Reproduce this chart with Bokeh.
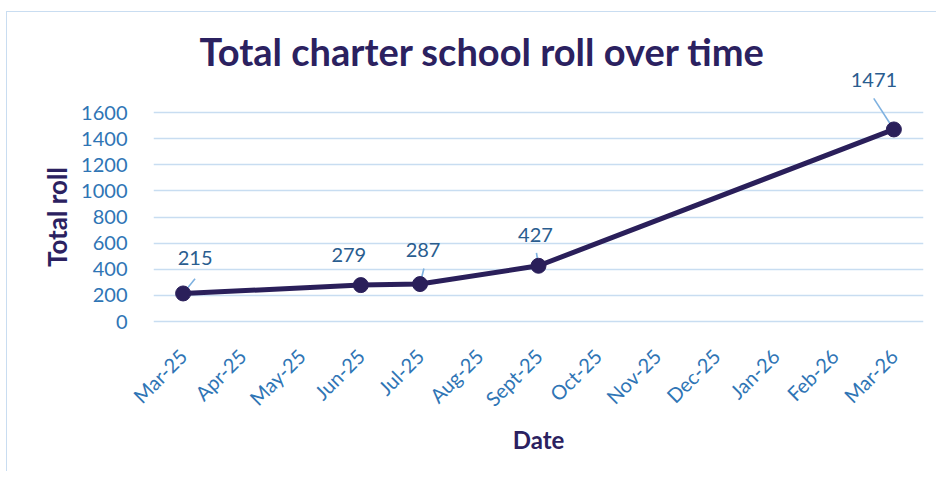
from math import pi, radians
from bokeh.plotting import figure
from bokeh.models import ColumnDataSource, FixedTicker, Range1d, FactorRange
from bokeh.embed import file_html
from bokeh.resources import INLINE

# ---- data ----
months = ["Mar-25", "Apr-25", "May-25", "Jun-25", "Jul-25", "Aug-25", "Sept-25",
          "Oct-25", "Nov-25", "Dec-25", "Jan-26", "Feb-26", "Mar-26"]
obs_months = ["Mar-25", "Jun-25", "Jul-25", "Sept-25", "Mar-26"]
roll = [215, 279, 287, 427, 1471]
y_ticks = [0, 200, 400, 600, 800, 1000, 1200, 1400, 1600]

# ---- styles ----
label_dx = [12, -12, 3, -3, -20]
label_dy = [-35, -30, -34, -31, -49]
leader_idx = [0, 2, 3, 4]
leader_angle = [51, 76, 99, 123]
leader_len = [19, 16, 13, 37]

TITLE_C = "#2b2160"
TICK_C = "#2f75b5"
LABEL_C = "#2a5d8f"
LINE_C = "#2a1f5a"
GRID_C = "#c8ddf1"

p = figure(width=930, height=460, output_backend="svg", toolbar_location=None,
           x_range=FactorRange(*months, range_padding=0),
           y_range=Range1d(-15, 1953),
           min_border_left=146, min_border_right=14,
           min_border_top=54, min_border_bottom=149,
           background_fill_color="white", border_fill_color="white",
           outline_line_color=None,
           styles={"margin-left": "6px", "margin-top": "11px",
                   "border-left": "1.5px solid #c9ddf1", "border-top": "1.5px solid #c9ddf1"})

p.title.text = "Total charter school roll over time"
p.title.text_font = "Lato"
p.title.text_font_style = "bold"
p.title.text_font_size = "38px"
p.title.text_color = TITLE_C
p.title.align = "left"
p.title.offset = 46
p.title.standoff = -15

p.xgrid.grid_line_color = None
p.ygrid.grid_line_color = GRID_C
p.ygrid.grid_line_width = 1.6
p.yaxis.ticker = FixedTicker(ticks=y_ticks)

for ax in (p.xaxis, p.yaxis):
    ax.axis_line_color = None
    ax.major_tick_line_color = None
    ax.minor_tick_line_color = None
    ax.major_label_text_font = "Lato"
    ax.major_label_text_font_size = "20px"
    ax.major_label_text_color = TICK_C
    ax.axis_label_text_font = "Lato"
    ax.axis_label_text_font_style = "bold"
    ax.axis_label_text_color = TITLE_C

p.xaxis.axis_label_text_font_size = "24px"
p.yaxis.axis_label_text_font_size = "26px"

p.yaxis.major_label_standoff = 20
p.yaxis.axis_label = "Total roll" + "\u00a0" * 7
p.yaxis.axis_label_standoff = 5

p.xaxis.major_label_orientation = pi / 4
p.xaxis.major_label_standoff = 23
p.xaxis.axis_label = "Date"
p.xaxis.axis_label_standoff = 3

src = ColumnDataSource(dict(x=obs_months, y=roll, t=[str(v) for v in roll],
                            dx=label_dx, dy=label_dy))
lsrc = ColumnDataSource(dict(x=[obs_months[i] for i in leader_idx],
                             y=[roll[i] for i in leader_idx],
                             a=[radians(a) for a in leader_angle],
                             l=leader_len))

p.ray(x="x", y="y", length="l", angle="a", length_units="screen", source=lsrc,
      line_color="#7eb1e0", line_width=1.6)
p.line(x="x", y="y", source=src, line_color=LINE_C, line_width=5)
p.scatter(x="x", y="y", source=src, size=15, fill_color=LINE_C, line_color=LINE_C)
p.text(x="x", y="y", text="t", x_offset="dx", y_offset="dy", source=src,
       text_align="center", text_baseline="middle", text_font_size="20px",
       text_color=LABEL_C, text_font={"value": "Lato"})

open("out.html", "w").write(file_html(p, INLINE))
